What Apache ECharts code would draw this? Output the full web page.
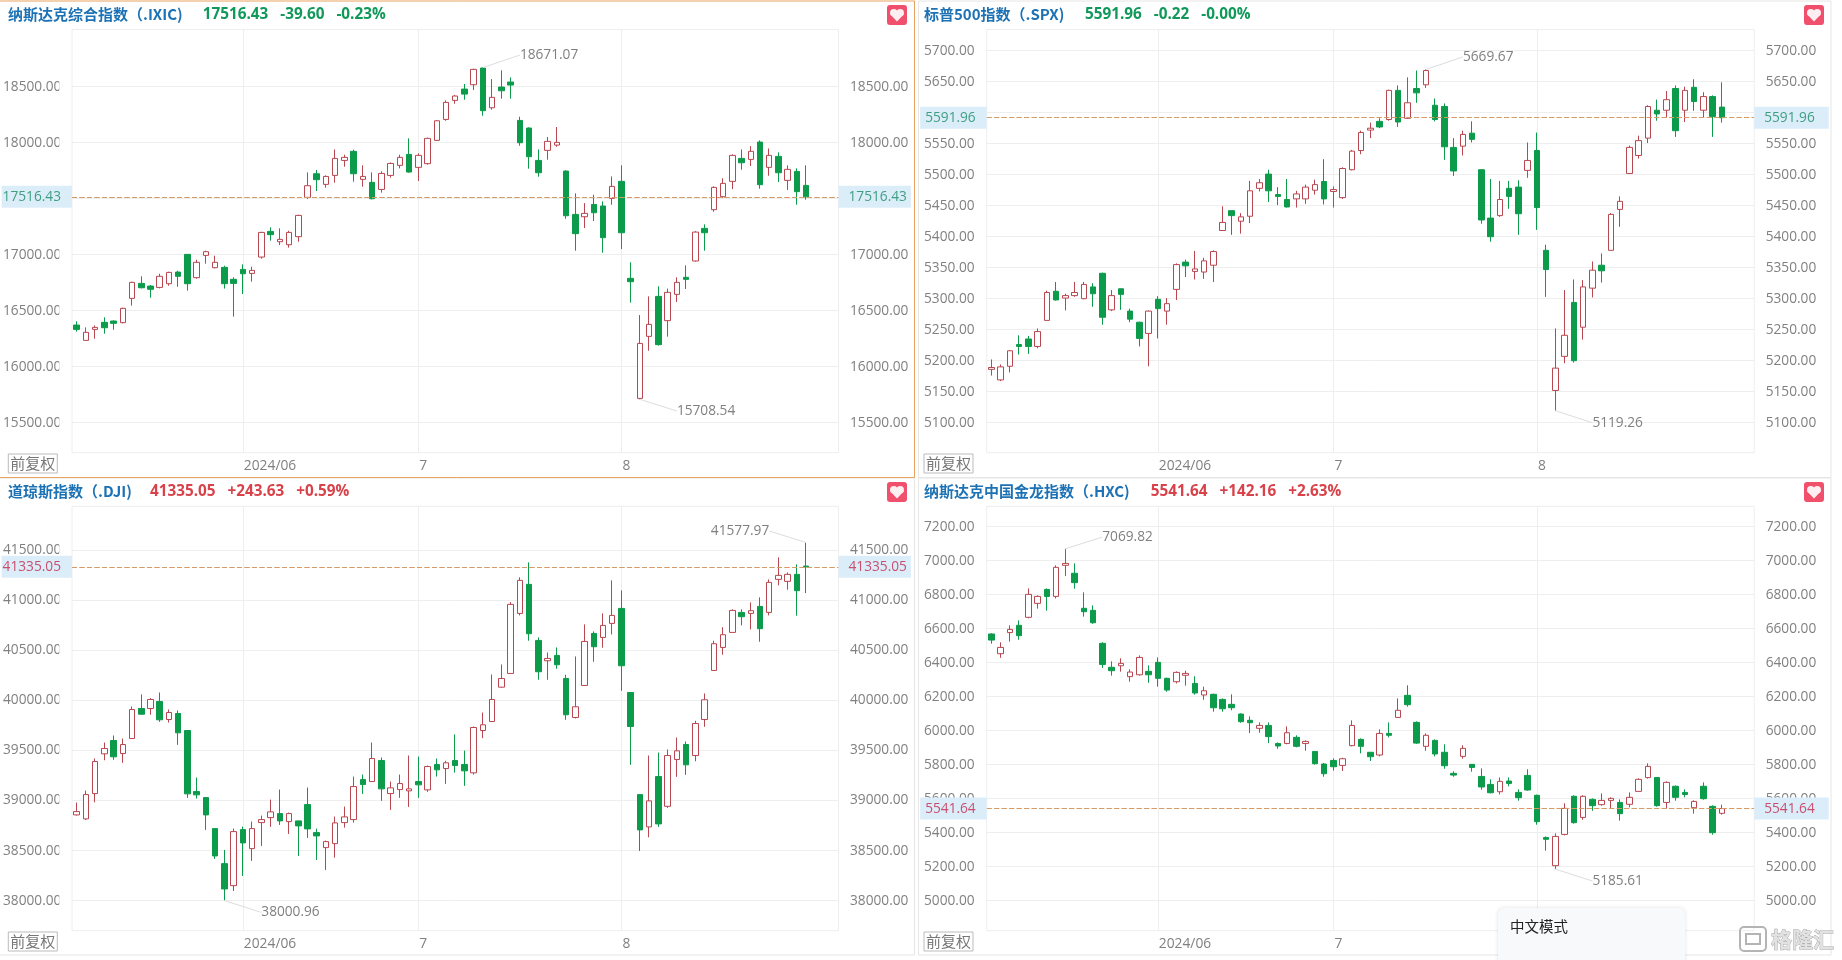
<!DOCTYPE html>
<html>
<head>
<meta charset="utf-8">
<title>指数K线</title>
<script src="https://cdn.jsdelivr.net/npm/echarts@6/dist/echarts.min.js"></script>
<style>
  html, body { margin: 0; padding: 0; background: #fff; }
  #main { width: 1842px; height: 960px; }
</style>
</head>
<body>
<div id="main"></div>
<script>
// rows are [open, close, low, high]
const ixicCandles = [
  [16372,16333,16313,16405],[16235,16307,16235,16351],[16333,16351,16250,16369],[16396,16348,16295,16441],
  [16408,16387,16330,16414],[16393,16521,16387,16527],[16610,16753,16545,16759],[16744,16705,16699,16807],
  [16720,16691,16616,16729],[16708,16807,16699,16830],[16741,16842,16723,16848],[16845,16807,16714,16857],
  [17003,16741,16679,17006],[16795,16932,16786,16955],[16994,17027,16920,17036],[16884,16932,16878,16991],
  [16887,16741,16697,16902],[16780,16744,16447,16798],[16869,16830,16649,16914],[16833,16860,16759,16893],
  [16979,17199,16964,17205],[17208,17179,17125,17244],[17116,17137,17086,17235],[17089,17199,17063,17214],
  [17161,17351,17116,17357],[17512,17616,17497,17735],[17723,17670,17568,17756],[17628,17699,17598,17708],
  [17708,17860,17643,17940],[17842,17869,17786,17893],[17923,17723,17652,17938],[17673,17699,17607,17798],
  [17646,17500,17494,17735],[17583,17726,17554,17744],[17708,17815,17688,17824],[17798,17869,17771,17893],
  [17896,17738,17732,18039],[17780,17887,17658,17905],[17813,18039,17804,18045],[18021,18196,18015,18202],
  [18208,18360,18196,18378],[18378,18417,18348,18426],[18479,18434,18384,18524],[18518,18655,18470,18661],
  [18667,18286,18241,18671.07],[18312,18405,18295,18568],[18497,18464,18393,18646],[18542,18515,18393,18583],
  [18199,18000,17973,18232],[18131,17875,17768,18137],[17842,17732,17696,17940],[17932,18012,17848,18051],
  [17979,18003,17964,18140],[17747,17348,17321,17753],[17360,17188,17036,17548],[17339,17369,17238,17461],
  [17449,17375,17301,17536],[17435,17152,17018,17476],[17503,17610,17446,17699],[17655,17196,17051,17798],
  [16789,16759,16572,16932],[15717,16208,15708.54,16461],[16271,16378,16143,16628],[16628,16197,16188,16717],
  [16411,16664,16268,16697],[16646,16753,16577,16798],[16798,16780,16694,16905],[16944,17202,16938,17211],
  [17235,17196,17036,17271],[17402,17601,17384,17610],[17518,17637,17509,17682],[17655,17887,17586,17896],
  [17860,17821,17759,17940],[17851,17923,17792,17970],[18006,17625,17589,18021],[17780,17887,17705,17949],
  [17878,17732,17649,17914],[17664,17762,17577,17798],[17744,17563,17446,17771],[17619,17516.43,17491,17798]
];
const spxCandles = [
  [5186,5189,5176,5202],[5169,5190,5167,5194],[5191,5216,5181,5217],[5226,5223,5210,5241],
  [5235,5223,5211,5240],[5223,5247,5220,5252],[5265,5310,5265,5313],[5312,5298,5297,5327],
  [5301,5305,5281,5308],[5305,5310,5303,5327],[5300,5323,5299,5327],[5319,5308,5287,5325],
  [5341,5270,5258,5342],[5282,5305,5280,5314],[5316,5307,5282,5316],[5280,5267,5262,5284],
  [5262,5236,5223,5263],[5244,5280,5191,5281],[5299,5284,5236,5304],[5280,5292,5258,5301],
  [5315,5355,5298,5357],[5359,5353,5335,5363],[5344,5348,5331,5377],[5343,5361,5332,5366],
  [5354,5376,5327,5378],[5410,5423,5410,5449],[5442,5434,5403,5442],[5425,5432,5405,5438],
  [5433,5474,5422,5490],[5478,5487,5473,5493],[5501,5474,5456,5508],[5468,5465,5451,5480],
  [5460,5448,5447,5493],[5461,5469,5447,5474],[5461,5480,5453,5484],[5475,5484,5468,5492],
  [5489,5461,5452,5525],[5473,5476,5447,5481],[5463,5510,5461,5512],[5508,5538,5507,5540],
  [5539,5568,5533,5571],[5572,5575,5559,5584],[5586,5577,5575,5591],[5589,5636,5587,5637],
  [5636,5585,5577,5644],[5591,5616,5590,5657],[5639,5632,5616,5668],[5645,5668,5640,5669.67],
  [5612,5589,5586,5623],[5610,5545,5524,5615],[5544,5506,5498,5559],[5546,5565,5531,5571],
  [5567,5557,5552,5586],[5508,5427,5421,5509],[5430,5400,5392,5493],[5434,5460,5432,5490],
  [5478,5465,5445,5490],[5480,5437,5403,5491],[5507,5523,5495,5552],[5539,5447,5411,5568],
  [5378,5347,5303,5387],[5152,5188,5119.26,5252],[5207,5241,5196,5314],[5294,5200,5197,5331],
  [5254,5319,5234,5330],[5317,5346,5302,5360],[5354,5345,5326,5373],[5378,5436,5378,5438],
  [5444,5457,5416,5465],[5502,5544,5502,5547],[5531,5555,5526,5563],[5559,5610,5551,5612],
  [5604,5598,5587,5621],[5604,5621,5592,5635],[5639,5571,5561,5644],[5604,5636,5585,5642],
  [5641,5618,5603,5654],[5604,5626,5592,5633],[5626,5594,5561,5628],[5609,5591.96,5584,5649]
];
const djiCandles = [
  [38857,38890,38850,38980],[38817,39060,38807,39100],[39070,39390,38983,39420],[39467,39520,39403,39580],
  [39600,39437,39407,39650],[39470,39560,39377,39620],[39620,39910,39620,39940],[39920,39863,39857,40060],
  [39920,40010,39857,40023],[39990,39807,39787,40080],[39810,39880,39780,39910],[39870,39677,39557,39900],
  [39700,39067,39027,39700],[39090,39057,39020,39230],[39030,38857,38707,39030],[38720,38447,38417,38720],
  [38370,38117,38000.96,38507],[38150,38690,38097,38720],[38710,38577,38247,38740],[38520,38720,38397,38790],
  [38780,38810,38547,38850],[38830,38887,38737,39010],[38870,38797,38757,39110],[38790,38870,38667,38880],
  [38797,38747,38447,38797],[38960,38717,38627,39130],[38680,38647,38407,38720],[38530,38590,38307,38600],
  [38570,38777,38430,38840],[38780,38837,38730,38940],[38810,39140,38780,39240],[39210,39160,39067,39260],
  [39190,39420,39190,39580],[39400,39117,38997,39430],[39070,39127,38907,39190],[39110,39170,39027,39260],
  [39097,39117,38937,39450],[39190,39157,39027,39440],[39107,39340,39087,39350],[39360,39307,39240,39420],
  [39320,39377,39167,39397],[39400,39350,39280,39660],[39360,39297,39147,39500],[39277,39730,39260,39740],
  [39700,39757,39623,39880],[39790,40010,39790,40260],[40133,40220,40127,40360],[40270,40960,40270,40983],
  [40870,41200,40850,41230],[41160,40667,40597,41380],[40600,40287,40207,40630],[40397,40420,40207,40480],
  [40450,40357,40317,40530],[40220,39857,39807,40257],[39830,39937,39820,40440],[40150,40590,40150,40760],
  [40670,40537,40387,40690],[40630,40750,40527,40870],[40770,40850,40660,41200],[40920,40347,40097,41100],
  [40080,39740,39357,40080],[39060,38707,38497,39060],[38737,38997,38633,39450],[39240,38767,38737,39480],
  [38943,39450,38927,39510],[39410,39497,39237,39630],[39560,39357,39257,39590],[39450,39770,39393,39797],
  [39810,40007,39737,40070],[40300,40567,40300,40597],[40530,40657,40457,40733],[40680,40900,40680,40910],
  [40880,40837,40750,40910],[40870,40897,40710,40980],[40940,40717,40587,41030],[40880,41180,40850,41210],
  [41210,41250,41150,41430],[41190,41260,41107,41280],[41260,41097,40847,41360],[41343,41335.05,41073,41577.97]
];
const hxcCandles = [
  [6569,6533,6512,6573],[6453,6490,6429,6520],[6577,6596,6524,6620],[6620,6559,6535,6649],
  [6667,6802,6661,6837],[6749,6790,6718,6796],[6831,6790,6706,6837],[6790,6961,6778,6973],
  [6973,6984,6910,7069.82],[6926,6871,6835,6984],[6720,6700,6671,6814],[6708,6635,6629,6737],
  [6514,6390,6369,6520],[6373,6353,6324,6408],[6382,6396,6347,6426],[6318,6345,6288,6361],
  [6329,6431,6324,6443],[6349,6329,6282,6384],[6402,6308,6259,6431],[6308,6239,6229,6312],
  [6288,6343,6278,6349],[6326,6337,6265,6353],[6278,6222,6212,6320],[6210,6235,6182,6259],
  [6214,6135,6112,6218],[6184,6129,6112,6190],[6155,6135,6120,6214],[6098,6053,6047,6102],
  [6061,6047,5986,6084],[6014,6031,5988,6049],[6031,5965,5927,6049],[5925,5910,5894,5931],
  [5925,5988,5920,6025],[5961,5908,5902,5973],[5925,5937,5882,5943],[5878,5806,5800,5878],
  [5804,5747,5729,5810],[5825,5788,5765,5837],[5796,5835,5763,5841],[5912,6031,5908,6061],
  [5949,5908,5867,5955],[5873,5847,5822,5873],[5857,5984,5849,6008],[5984,5973,5961,6049],
  [6078,6120,6075,6190],[6208,6153,6141,6267],[6049,5927,5922,6055],[5908,5973,5882,5984],
  [5943,5863,5849,5949],[5873,5794,5776,5920],[5749,5739,5729,5761],[5849,5896,5835,5914],
  [5802,5784,5759,5802],[5731,5669,5653,5778],[5684,5635,5631,5714],[5641,5702,5625,5725],
  [5704,5690,5673,5725],[5637,5606,5588,5655],[5737,5651,5647,5773],[5620,5465,5447,5624],
  [5372,5361,5294,5378],[5206,5378,5185.61,5396],[5390,5543,5384,5573],[5614,5459,5453,5620],
  [5490,5614,5476,5620],[5596,5559,5529,5602],[5565,5590,5559,5631],[5590,5602,5543,5608],
  [5578,5512,5471,5596],[5567,5608,5549,5637],[5643,5714,5643,5720],[5724,5790,5718,5808],
  [5725,5559,5553,5725],[5578,5696,5543,5702],[5673,5608,5588,5678],[5637,5625,5608,5655],
  [5547,5584,5512,5590],[5673,5600,5594,5696],[5555,5400,5388,5561],[5514,5541.64,5506,5565]
];

const categories = Array.from({ length: 83 }, (_, i) => String(i)); // 3 empty slots on the right
const monthTicks = { 18: '2024/06', 37: '7', 59: '8' };

const ixicTicks = [15500, 16000, 16500, 17000, 17500, 18000, 18500];
const spxTicks = [5100, 5150, 5200, 5250, 5300, 5350, 5400, 5450, 5500, 5550, 5600, 5650, 5700];
const djiTicks = [38000, 38500, 39000, 39500, 40000, 40500, 41000, 41500];
const hxcTicks = [5000, 5200, 5400, 5600, 5800, 6000, 6200, 6400, 6600, 6800, 7000, 7200];

const ixicQuote = ['纳斯达克综合指数（.IXIC)', '17516.43', '-39.60', '-0.23%'];
const spxQuote = ['标普500指数（.SPX)', '5591.96', '-0.22', '-0.00%'];
const djiQuote = ['道琼斯指数（.DJI)', '41335.05', '+243.63', '+0.59%'];
const hxcQuote = ['纳斯达克中国金龙指数（.HXC)', '5541.64', '+142.16', '+2.63%'];

// [candle index, value] -> [label index, label value]
const ixicNotes = [[44, 18671.07, 48, 18783], [61, 15708.54, 65, 15604]];
const spxNotes = [[47, 5669.67, 51, 5690], [61, 5119.26, 65, 5100]];
const djiNotes = [[16, 38000.96, 20, 37883], [79, 41577.97, 75, 41693]];
const hxcNotes = [[8, 7069.82, 12, 7139], [61, 5185.61, 65, 5116]];

const UP = '#b8474f', DOWN = '#0b9b4b', GREEN = '#10995a', RED = '#d8434b', BLUE = '#1c72b4';
const NUM_FONT = '"Open Sans", sans-serif';
const CJK_FONT = '"Noto Sans CJK SC", sans-serif';
const GRID_W = 767.5;

const panels = [
  { candles: ixicCandles, ticks: ixicTicks, quote: ixicQuote, notes: ixicNotes, last: 17516.43, min: 15232, max: 19011,
    x: 71, y: 29.5, h: 423.2, nameX: 8, valueX: 202.7, titleY: 4, tagColor: '#3f9f80', pad: [11, 1, 4, 10], frameX: 0, clip: true },
  { candles: spxCandles, ticks: spxTicks, quote: spxQuote, notes: spxNotes, last: 5591.96, min: 5051.6, max: 5734.2,
    x: 986.7, y: 29.5, h: 423.2, nameX: 924, valueX: 1085, titleY: 4, tagColor: '#3f9f80', pad: [11, 5, 14, 10], frameX: 918 },
  { candles: djiCandles, ticks: djiTicks, quote: djiQuote, notes: djiNotes, last: 41335.05, min: 37700, max: 41940,
    x: 71, y: 506.3, h: 424.4, nameX: 8, valueX: 150, titleY: 481, tagColor: '#c8506e', pad: [11, 1, 4, 10], frameX: 0, clip: true },
  { candles: hxcCandles, ticks: hxcTicks, quote: hxcQuote, notes: hxcNotes, last: 5541.64, min: 4823.5, max: 7320,
    x: 986.7, y: 506.3, h: 424.4, nameX: 924, valueX: 1150.7, titleY: 481, tagColor: '#c8506e', pad: [11, 5, 14, 10], frameX: 918 }
];

const grid = [], xAxis = [], yAxis = [], series = [], title = [], graphic = [];

function tagLabel(text, color, position, padding) {
  return {
    show: true, position: position, distance: 0, formatter: text, color: color,
    fontFamily: NUM_FONT, fontSize: 13.7, backgroundColor: '#dcedfa',
    padding: padding, lineHeight: 14
  };
}

panels.forEach(function (p, i) {
  grid.push({ left: p.x, top: p.y, width: GRID_W, height: p.h, show: true, borderColor: '#eeeeee', borderWidth: 1 });
  xAxis.push({
    gridIndex: i, type: 'category', data: categories,
    axisLine: { show: false }, axisTick: { show: false },
    axisLabel: {
      interval: 0, align: 'left', margin: 6, padding: [0, 0, 0, 1], color: '#808080', fontFamily: NUM_FONT, fontSize: 13.8,
      formatter: function (v) { return monthTicks[v] || ''; }
    },
    splitLine: {
      show: true, alignWithLabel: true, lineStyle: { color: '#eeeeee' },
      interval: function (idx) { return monthTicks[idx] !== undefined; }
    }
  });
  const yCommon = {
    gridIndex: i, type: 'value', min: p.min, max: p.max,
    axisLine: { show: false },
    axisTick: { show: false, customValues: p.ticks }
  };
  const labelCommon = { customValues: p.ticks, color: '#808080', fontFamily: NUM_FONT, fontSize: 13.7, padding: [4, 0, 0, 0],
    formatter: function (v) { return v.toFixed(2); } };
  yAxis.push(Object.assign({}, yCommon, {
    position: 'left',
    splitLine: { show: true, lineStyle: { color: '#eeeeee' } },
    axisLabel: Object.assign({}, labelCommon, { align: 'left', margin: p.x - (p.frameX + (p.clip ? 2 : 6)) })
  }));
  yAxis.push(Object.assign({}, yCommon, {
    position: 'right',
    splitLine: { show: false },
    axisLabel: Object.assign({}, labelCommon, { align: 'left', margin: 11.5 })
  }));

  const lineData = [
    { yAxis: p.last, label: tagLabel(String(p.last), p.tagColor, 'start', [4, p.pad[0], 4, p.pad[1]]) },
    { yAxis: p.last, label: tagLabel(String(p.last), p.tagColor, 'end', [4, p.pad[2], 4, p.pad[3]]) }
  ];
  p.notes.forEach(function (n) {
    lineData.push([
      { coord: [n[0], n[1]], lineStyle: { color: '#dddddd', type: 'solid', width: 1 },
        label: { show: true, position: 'end', distance: 0, formatter: n[1].toFixed(2), color: '#808080',
          fontFamily: NUM_FONT, fontSize: 13.7, align: n[2] > n[0] ? 'left' : 'right', verticalAlign: 'middle',
          backgroundColor: 'transparent', padding: [2, 0, 0, 0] } },
      { coord: [n[2], n[3]] }
    ]);
  });

  series.push({
    type: 'candlestick', xAxisIndex: i, yAxisIndex: i * 2, data: p.candles, barWidth: 6,
    animation: false, silent: true,
    itemStyle: { color: '#ffffff', color0: DOWN, borderColor: UP, borderColor0: DOWN, borderWidth: 1 },
    markLine: {
      silent: true, animation: false, symbol: 'none',
      lineStyle: { color: '#d79a63', type: [5, 2.5], width: 1 },
      data: lineData
    }
  });

  const changeColor = p.quote[2].charAt(0) === '+' ? RED : GREEN;
  title.push({ left: p.nameX, top: p.titleY, text: p.quote[0], padding: 0,
    textStyle: { color: BLUE, fontFamily: CJK_FONT, fontSize: 15, fontWeight: 'bold', lineHeight: 20 } });
  title.push({ left: p.valueX, top: p.titleY + 1, text: p.quote[1] + '   ' + p.quote[2] + '   ' + p.quote[3], padding: 0,
    textStyle: { color: changeColor, fontFamily: NUM_FONT, fontSize: 15.3, fontWeight: 'bold', lineHeight: 20 } });

  // left labels of the 5 digit panels get cut by the plot's margin
  if (p.clip) {
    graphic.push({ type: 'rect', z: 1, shape: { x: 59.3, y: p.y, width: 11, height: p.h }, style: { fill: '#fff' } });
  }
  const btnX = p.frameX + (p.clip ? 8.3 : 6);
  const btnY = p.y + (i < 2 ? 424.5 : 425.7);
  graphic.push({ type: 'rect', z: 6, shape: { x: btnX, y: btnY, width: 49, height: 19 },
    style: { fill: '#fff', stroke: '#bbbbbb', lineWidth: 1 } });
  graphic.push({ type: 'text', z: 7, x: btnX + 24.5, y: btnY + 9.5,
    style: { text: '前复权', fill: '#777', font: '15px ' + CJK_FONT, textAlign: 'center', textVerticalAlign: 'middle' } });

  const heartX = i % 2 ? 1804 : 887;
  const heartY = i < 2 ? 5 : 482;
  graphic.push({ type: 'rect', z: 6, shape: { x: heartX, y: heartY, width: 20, height: 20, r: 3 }, style: { fill: '#f0506c' } });
  graphic.push({ type: 'circle', z: 7, shape: { cx: heartX + 6.8, cy: heartY + 7.8, r: 3.8 }, style: { fill: '#fdeef1' } });
  graphic.push({ type: 'circle', z: 7, shape: { cx: heartX + 13.2, cy: heartY + 7.8, r: 3.8 }, style: { fill: '#fdeef1' } });
  graphic.push({ type: 'polygon', z: 7,
    shape: { points: [[heartX + 3.2, heartY + 9.2], [heartX + 16.8, heartY + 9.2], [heartX + 10, heartY + 16.5]] },
    style: { fill: '#fdeef1' } });
});

// panel frames, the first one is the selected panel, its left edge runs off the page
[[918.5, 1, 912.5, 476.5, '#e6e6e6'], [-1, 478, 915.5, 477, '#e6e6e6'],
 [918.5, 478, 912.5, 477, '#e6e6e6'], [-1, 1, 915.5, 476.5, '#e8a45f']].forEach(function (f) {
  graphic.push({ type: 'rect', z: 0, shape: { x: f[0], y: f[1], width: f[2], height: f[3] },
    style: { fill: 'none', stroke: f[4], lineWidth: 1 } });
});

// input method popup and the watermark, both sit over the picture
graphic.push({ type: 'rect', z: 20, shape: { x: 1498, y: 908, width: 187, height: 60, r: 6 },
  style: { fill: '#f8f9fb', shadowBlur: 4, shadowColor: 'rgba(0,0,0,0.12)' } });
graphic.push({ type: 'text', z: 21, x: 1510, y: 926,
  style: { text: '中文模式', fill: '#222', font: '14.5px ' + CJK_FONT, textVerticalAlign: 'middle' } });
graphic.push({ type: 'rect', z: 20, shape: { x: 1740, y: 927, width: 26, height: 24, r: 4 },
  style: { fill: 'none', stroke: '#b4b4b4', lineWidth: 2 } });
graphic.push({ type: 'rect', z: 20, shape: { x: 1746, y: 934, width: 14, height: 10 },
  style: { fill: 'none', stroke: '#b4b4b4', lineWidth: 2 } });
graphic.push({ type: 'text', z: 21, x: 1771, y: 939,
  style: { text: '格隆汇', fill: '#e2e2e2', stroke: '#a0a0a0', lineWidth: 0.8, font: 'bold 21px ' + CJK_FONT, textVerticalAlign: 'middle' } });

const chart = echarts.init(document.getElementById('main'), null, { renderer: 'canvas' });
chart.setOption({
  animation: false,
  backgroundColor: '#ffffff',
  title: title, grid: grid, xAxis: xAxis, yAxis: yAxis, series: series, graphic: graphic
});
</script>
</body>
</html>
